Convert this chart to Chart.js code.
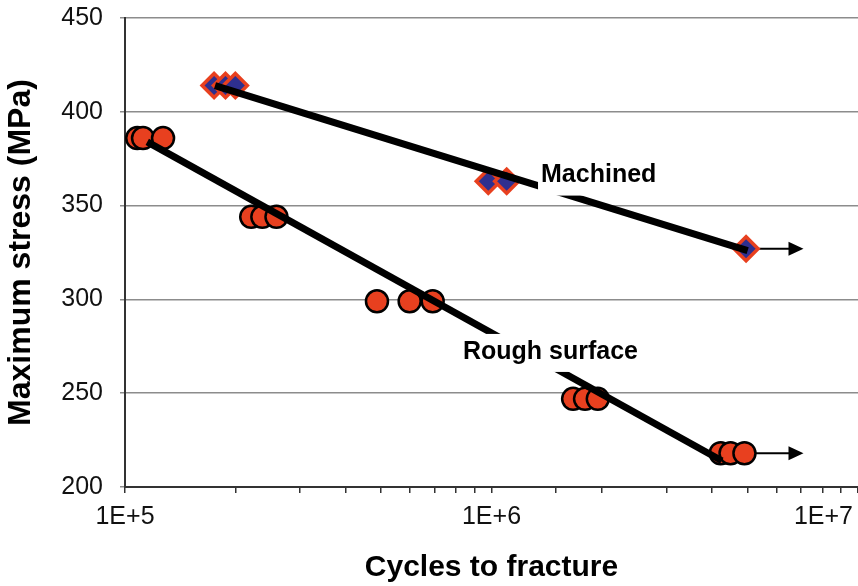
<!DOCTYPE html>
<html lang="en">
<head>
<meta charset="UTF-8">
<title>Maximum stress vs cycles to fracture</title>
<script src="https://cdn.jsdelivr.net/npm/chart.js@4.4.1/dist/chart.umd.min.js"></script>
<style>
  html, body { margin: 0; padding: 0; background: #fff; overflow: hidden; }
</style>
</head>
<body>
<canvas id="grafico" width="858" height="586"></canvas>
<script>
// machined specimens: cycles to fracture / max stress (MPa)
const machinedCycles = [1.75e5, 1.88e5, 2.0e5, 9.8e5, 1.1e6, 4.95e6];
const machinedStress = [414, 414, 414, 363, 363, 327];

// rough surface specimens
const roughCycles = [1.08e5, 1.12e5, 1.27e5, 2.21e5, 2.37e5, 2.59e5,
                     4.87e5, 5.98e5, 6.91e5, 1.67e6, 1.8e6, 1.95e6,
                     4.22e6, 4.49e6, 4.9e6];
const roughStress = [386, 386, 386, 344, 344, 344,
                     299, 299, 299, 247, 247, 247,
                     218, 218, 218];

// fitted trend lines (end points)
const machinedFitCycles = [1.76e5, 5.0e6];
const machinedFitStress = [414, 326];
const roughFitCycles = [1.15e5, 4.25e6];
const roughFitStress = [384, 214];

// run-outs: last specimen of each series did not break, arrow goes to here
const runoutEndCycles = 7.1e6;

// curve labels and where they sit
const curveNames = ['Machined', 'Rough surface'];
const curveLabelCycles = [1.365e6, 8.36e5];
const curveLabelStress = [366, 272];

const xTickValues = [1e5, 1e6, 1e7];
const xTickLabels = ['1E+5', '1E+6', '1E+7'];
const yMin = 200, yMax = 450, yStep = 50;

const RED = '#e8401f';
const NAVY = '#2e2f8f';
const FONT = '"Liberation Sans", Arial, Helvetica, sans-serif';

const toXY = (xs, ys) => xs.map((x, i) => ({ x: x, y: ys[i] }));

// arrows for run-outs, drawn under the markers
const runoutArrows = {
    id: 'runoutArrows',
    beforeDatasetsDraw(chart) {
        const { ctx } = chart;
        const xs = chart.scales.x, ys = chart.scales.y;
        const ends = [
            [machinedCycles[machinedCycles.length - 1], machinedStress[machinedStress.length - 1]],
            [roughCycles[roughCycles.length - 1], roughStress[roughStress.length - 1]]
        ];
        ctx.save();
        ctx.strokeStyle = '#000';
        ctx.fillStyle = '#000';
        ctx.lineWidth = 2;
        ends.forEach(([cx, cy]) => {
            const x0 = xs.getPixelForValue(cx);
            const y0 = ys.getPixelForValue(cy);
            const x1 = xs.getPixelForValue(runoutEndCycles);
            ctx.beginPath();
            ctx.moveTo(x0, y0);
            ctx.lineTo(x1 - 12, y0);
            ctx.stroke();
            ctx.beginPath();
            ctx.moveTo(x1, y0);
            ctx.lineTo(x1 - 15, y0 - 7);
            ctx.lineTo(x1 - 15, y0 + 7);
            ctx.closePath();
            ctx.fill();
        });
        ctx.restore();
    }
};

// curve labels on white boxes, plus the decade labels under the x axis
const labelsPlugin = {
    id: 'labelsPlugin',
    afterDatasetsDraw(chart) {
        const { ctx } = chart;
        const xs = chart.scales.x, ys = chart.scales.y;
        ctx.save();
        ctx.font = 'bold 25px ' + FONT;
        ctx.textAlign = 'left';
        ctx.textBaseline = 'middle';
        curveNames.forEach((name, i) => {
            const x = xs.getPixelForValue(curveLabelCycles[i]);
            const y = ys.getPixelForValue(curveLabelStress[i]);
            const w = ctx.measureText(name).width;
            ctx.fillStyle = '#fff';
            ctx.fillRect(x - 3, y - 18, w + 8, 38);
            ctx.fillStyle = '#000';
            ctx.fillText(name, x, y);
        });
        ctx.restore();
    },
    afterDraw(chart) {
        const { ctx } = chart;
        const xs = chart.scales.x;
        ctx.save();
        ctx.font = '25px ' + FONT;
        ctx.fillStyle = '#111';
        ctx.textAlign = 'center';
        ctx.textBaseline = 'middle';
        xTickValues.forEach((v, i) => {
            const w = ctx.measureText(xTickLabels[i]).width;
            let px = xs.getPixelForValue(v);
            px = Math.min(px, chart.width - 5 - w / 2);
            ctx.fillText(xTickLabels[i], px, xs.top + 30);
        });
        ctx.restore();
    }
};

const ctx = document.getElementById('grafico').getContext('2d');
const grafico = new Chart(ctx, {
    type: 'scatter',
    data: {
        datasets: [
            {
                label: 'Machined fit',
                type: 'line',
                data: toXY(machinedFitCycles, machinedFitStress),
                borderColor: '#000',
                borderWidth: 7,
                pointRadius: 0,
                fill: false,
                order: 0
            },
            {
                label: 'Rough surface fit',
                type: 'line',
                data: toXY(roughFitCycles, roughFitStress),
                borderColor: '#000',
                borderWidth: 7,
                pointRadius: 0,
                fill: false,
                order: 0
            },
            {
                label: 'Machined',
                data: toXY(machinedCycles, machinedStress),
                pointStyle: 'rectRot',
                pointRadius: 12,
                backgroundColor: NAVY,
                borderColor: RED,
                borderWidth: 3.5,
                order: 1
            },
            {
                label: 'Rough surface',
                data: toXY(roughCycles, roughStress),
                pointStyle: 'circle',
                pointRadius: 11,
                backgroundColor: RED,
                borderColor: '#000',
                borderWidth: 2.5,
                order: 1
            }
        ]
    },
    options: {
        responsive: false,
        animation: false,
        devicePixelRatio: 1,
        layout: {
            autoPadding: false,
            padding: { top: 18, right: 0, bottom: 0, left: 0 }
        },
        plugins: {
            legend: { display: false },
            tooltip: { enabled: false }
        },
        scales: {
            x: {
                type: 'logarithmic',
                position: 'bottom',
                min: xTickValues[0],
                max: xTickValues[xTickValues.length - 1],
                ticks: { display: false },
                grid: {
                    drawOnChartArea: false,
                    drawTicks: true,
                    tickLength: 6,
                    color: '#333',
                    lineWidth: 1.5
                },
                border: { color: '#333', width: 2 },
                title: {
                    display: true,
                    text: 'Cycles to fracture',
                    color: '#000',
                    font: { family: FONT, size: 30, weight: 'bold' },
                    padding: { top: 0, bottom: 0 }
                },
                afterFit: s => { s.height = 99; }
            },
            y: {
                min: yMin,
                max: yMax,
                ticks: {
                    stepSize: yStep,
                    color: '#111',
                    padding: 17,
                    font: { family: FONT, size: 25 }
                },
                grid: {
                    color: '#8c8c8c',
                    lineWidth: 1.5,
                    tickLength: 5
                },
                border: { color: '#333', width: 2 },
                title: {
                    display: true,
                    text: 'Maximum stress (MPa)',
                    color: '#000',
                    font: { family: FONT, size: 32, weight: 'bold' },
                    padding: { top: 2, bottom: 0 }
                },
                afterFit: s => {
                    s.width = 125;
                    s.paddingTop = 0;
                    s.paddingBottom = 0;
                }
            }
        }
    },
    plugins: [runoutArrows, labelsPlugin]
});
</script>
</body>
</html>
